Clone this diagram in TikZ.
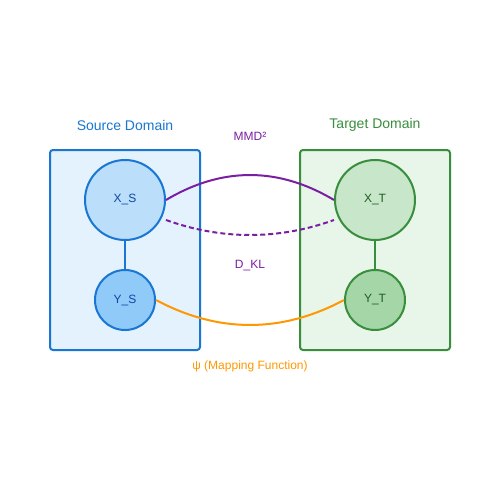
\documentclass[tikz,border=0pt]{standalone}
\usepackage{fontspec}
\setmainfont{Liberation Sans}
\definecolor{sblue}{HTML}{1976D2}
\definecolor{sfill}{HTML}{E3F2FD}
\definecolor{xsfill}{HTML}{BBDEFB}
\definecolor{ysfill}{HTML}{90CAF9}
\definecolor{stext}{HTML}{0D47A1}
\definecolor{tgreen}{HTML}{388E3C}
\definecolor{tfill}{HTML}{E8F5E9}
\definecolor{xtfill}{HTML}{C8E6C9}
\definecolor{ytfill}{HTML}{A5D6A7}
\definecolor{ttext}{HTML}{1B5E20}
\definecolor{mpurple}{HTML}{7B1FA2}
\definecolor{morange}{HTML}{FF9800}
\tikzset{
  domainbox/.style={line width=2pt, rounded corners=3pt},
  varnode/.style={circle, line width=2pt, inner sep=0pt, font=\fontsize{12}{14}\selectfont},
  titlelabel/.style={font=\fontsize{14}{16}\selectfont},
  smalllabel/.style={font=\fontsize{12}{14}\selectfont},
  link/.style={line width=2pt},
}
\begin{document}
\begin{tikzpicture}[x=1pt,y=-1pt]
\useasboundingbox[fill=white] (0,0) rectangle (500,500);
% domain boxes
\draw[domainbox, draw=sblue, fill=sfill] (50,150) rectangle (200,350);
\draw[domainbox, draw=tgreen, fill=tfill] (300,150) rectangle (450,350);
\node[titlelabel, text=sblue] (srclab) at (125,125) {Source Domain};
\node[titlelabel, text=tgreen] (tgtlab) at (375,125) {Target Domain};
% variable nodes
\node[varnode, minimum size=80pt, draw=sblue, fill=xsfill, text=stext] (xs) at (125,200) {X\_S};
\node[varnode, minimum size=60pt, draw=sblue, fill=ysfill, text=stext] (ys) at (125,300) {Y\_S};
\node[varnode, minimum size=80pt, draw=tgreen, fill=xtfill, text=ttext] (xt) at (375,200) {X\_T};
\node[varnode, minimum size=60pt, draw=tgreen, fill=ytfill, text=ttext] (yt) at (375,300) {Y\_T};
% vertical links
\draw[link, sblue] (xs) -- (ys);
\draw[link, tgreen] (xt) -- (yt);
% MMD curve
\draw[link, mpurple] (xs.east) .. controls (221.7,166.7) and (278.3,166.7) .. (xt.west);
% KL curve
\draw[link, mpurple, dash pattern=on 5pt off 3pt]
  ([yshift=-20pt]xs.east) .. controls (221.7,240) and (278.3,240) .. ([yshift=-20pt]xt.west);
% mapping curve
\draw[link, morange] (ys.east) .. controls (218.3,333.3) and (281.7,333.3) .. (yt.west);
% labels
\node[smalllabel, text=mpurple] (mmd) at (250,136) {MMD²};
\node[smalllabel, text=mpurple] (dkl) at (250,266) {D\_KL};
\node[smalllabel, text=morange] (psi) at (250,366) {ψ (Mapping Function)};
\end{tikzpicture}
\end{document}
